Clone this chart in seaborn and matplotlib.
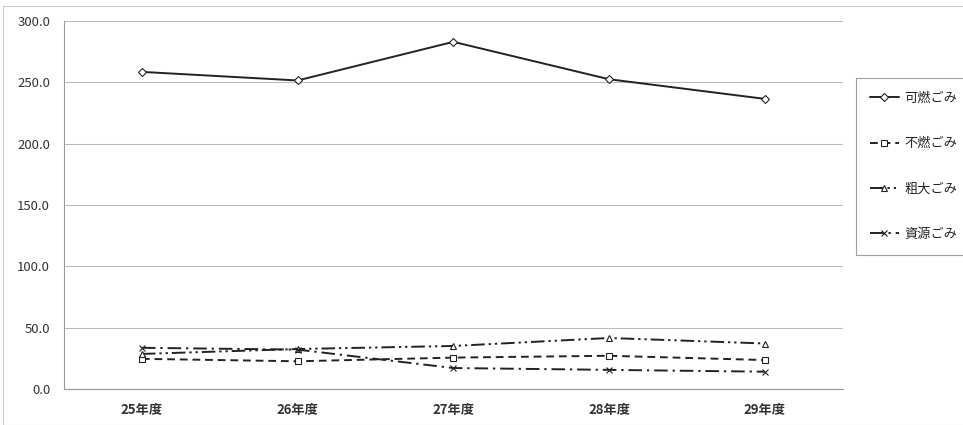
import numpy as np
import pandas as pd
import matplotlib
matplotlib.use("Agg")
import matplotlib.pyplot as plt
import seaborn as sns

# ---- data ------------------------------------------------------------------
years = ["25年度", "26年度", "27年度", "28年度", "29年度"]
kanen = [258.5, 251.5, 283.0, 252.5, 236.5]     # 可燃ごみ
funen = [24.5, 22.5, 25.5, 27.0, 23.5]          # 不燃ごみ
sodai = [28.5, 32.5, 35.0, 41.5, 37.0]          # 粗大ごみ
shigen = [33.5, 32.0, 17.0, 15.5, 14.0]         # 資源ごみ
series_names = ["可燃ごみ", "不燃ごみ", "粗大ごみ", "資源ごみ"]
y_ticks = [0, 50, 100, 150, 200, 250, 300]

sns.set_style("white")
plt.rcParams["font.family"] = ["Noto Sans CJK JP", "DejaVu Sans"]

df = pd.DataFrame({
    "year": years * 4,
    "value": kanen + funen + sodai + shigen,
    "kind": [n for n in series_names for _ in years],
})

styles = {"可燃ごみ": "-", "不燃ごみ": (0, (4, 2.5)),
          "粗大ごみ": (0, (7, 2, 1.2, 2, 1.2, 2)), "資源ごみ": (0, (7, 2.5, 1.2, 2.5))}
markers = {"可燃ごみ": "D", "不燃ごみ": "s", "粗大ごみ": "^", "資源ごみ": "x"}

fig = plt.figure(figsize=(9.63, 4.25), dpi=100)
ax = fig.add_axes([0.0665, 0.085, 0.8085, 0.8656])

for name in series_names:
    sub = df[df["kind"] == name]
    sns.lineplot(data=sub, x="year", y="value", color="#222222", label=name,
                 marker=markers[name], markersize=4.5, markerfacecolor="white",
                 markeredgecolor="#222222", markeredgewidth=0.8,
                 linewidth=1.4, linestyle=styles[name], sort=False, ax=ax)

ax.set_xlim(-0.5, len(years) - 0.5)
ax.set_ylim(0, 300)
ax.set_yticks(y_ticks)
ax.set_yticklabels([f"{v:.1f}" for v in y_ticks], fontsize=9.5, color="#333333")
ax.set_xticks(range(len(years)))
ax.set_xticklabels(years, fontsize=9.5, color="#333333", fontweight="bold")
ax.set_xticks(np.arange(-0.5, len(years)), minor=True)
ax.tick_params(axis="x", which="major", length=0, pad=10)
ax.tick_params(axis="x", which="minor", length=4, color="#999999")
ax.tick_params(axis="y", length=4, color="#999999", pad=6)
ax.set_xlabel(""); ax.set_ylabel("")
ax.grid(axis="y", color="#bbbbbb", lw=0.8)
for side in ["top", "right"]:
    ax.spines[side].set_visible(False)
for side in ["left", "bottom"]:
    ax.spines[side].set_color("#999999")
    ax.spines[side].set_linewidth(0.8)

leg = ax.legend(loc="upper left", bbox_to_anchor=(1.017, 0.845), frameon=True,
                fontsize=9.5, labelspacing=2.45, handlelength=2.2,
                handletextpad=0.4, borderpad=1.05, borderaxespad=0,
                fancybox=False, edgecolor="#888888")
leg.get_frame().set_linewidth(0.8)

# outer chart frame
fig.patches.append(plt.Rectangle((0.003, 0.0), 1.2, 0.985, transform=fig.transFigure,
                                 fill=False, edgecolor="#cccccc", lw=0.8))

fig.savefig("out.png", dpi=100)
